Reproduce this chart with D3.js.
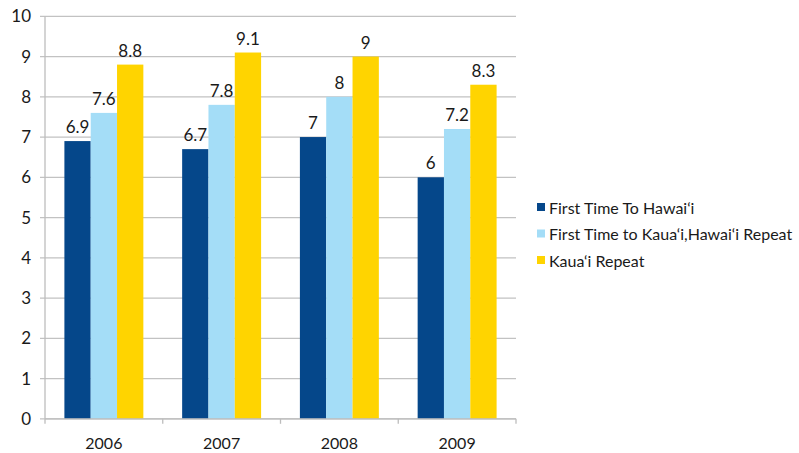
<!DOCTYPE html>
<html>
<head>
<meta charset="utf-8">
<script src="https://cdn.jsdelivr.net/npm/d3@7"></script>
<style>
  html, body { margin: 0; padding: 0; background: #fff; }
  svg text { font-family: "Lato", "Noto Sans", sans-serif; fill: #1a1a1a; }
</style>
</head>
<body>
<svg id="chart" width="799" height="453"></svg>
<script>
// Years on the category axis
const years = ["2006", "2007", "2008", "2009"];
// Visitor segments (legend order)
const seriesNames = [
  "First Time To Hawai\u2018i",
  "First Time to Kaua\u2018i,Hawai\u2018i Repeat",
  "Kaua\u2018i Repeat"
];
// Values per segment, one entry per year
const firstTimeHawaii = [6.9, 6.7, 7, 6];
const firstTimeKauai = [7.6, 7.8, 8, 7.2];
const kauaiRepeat = [8.8, 9.1, 9, 8.3];
const yTicks = [0, 1, 2, 3, 4, 5, 6, 7, 8, 9, 10];
const colors = ["#05478a", "#a4ddf7", "#ffd400"];

const seriesValues = [firstTimeHawaii, firstTimeKauai, kauaiRepeat];

const svg = d3.select("#chart");
const plotLeft = 45, plotRight = 516, plotTop = 16.3, plotBottom = 418.8;

const x = d3.scaleBand().domain(years).range([plotLeft, plotRight]).paddingInner(0).paddingOuter(0);
const groupPad = 19.4;
const xs = d3.scaleBand().domain(d3.range(seriesNames.length))
  .range([groupPad, x.bandwidth() - groupPad]).padding(0);
const y = d3.scaleLinear().domain([0, 10]).range([plotBottom, plotTop]);

// Horizontal gridlines with short tick marks left of the axis
svg.append("g").selectAll("line").data(yTicks).join("line")
  .attr("x1", plotLeft - 5).attr("x2", plotRight)
  .attr("y1", d => y(d)).attr("y2", d => y(d))
  .attr("stroke", "#c2c2c2").attr("stroke-width", 1.3);

// Y tick labels
svg.append("g").selectAll("text").data(yTicks).join("text")
  .attr("x", 31).attr("y", d => y(d)).attr("dy", "0.35em")
  .attr("text-anchor", "end").attr("font-size", 17).text(d => d);

// Bars
const groups = svg.append("g").selectAll("g").data(years).join("g")
  .attr("transform", d => `translate(${x(d)},0)`);

groups.each(function(year, i) {
  const g = d3.select(this);
  seriesValues.forEach((vals, s) => {
    const v = vals[i];
    g.append("rect")
      .attr("x", xs(s)).attr("width", xs.bandwidth())
      .attr("y", y(v)).attr("height", y(0) - y(v))
      .attr("fill", colors[s]);
    g.append("text")
      .attr("x", xs(s) + xs.bandwidth() / 2).attr("y", y(v) - 8)
      .attr("text-anchor", "middle").attr("font-size", 17)
      .text(v);
  });
});

// Axis lines
svg.append("line").attr("x1", plotLeft).attr("x2", plotLeft).attr("y1", plotTop).attr("y2", plotBottom)
  .attr("stroke", "#bdbdbd").attr("stroke-width", 1.3);
svg.append("line").attr("x1", plotLeft).attr("x2", plotRight).attr("y1", plotBottom).attr("y2", plotBottom)
  .attr("stroke", "#bdbdbd").attr("stroke-width", 1.3);

// Category boundary ticks below the axis
const bounds = years.map(d => x(d)).concat([plotRight]);
svg.append("g").selectAll("line").data(bounds).join("line")
  .attr("x1", d => d).attr("x2", d => d)
  .attr("y1", plotBottom).attr("y2", plotBottom + 5)
  .attr("stroke", "#bdbdbd").attr("stroke-width", 1.3);

// X labels
svg.append("g").selectAll("text").data(years).join("text")
  .attr("x", d => x(d) + x.bandwidth() / 2).attr("y", 449)
  .attr("text-anchor", "middle").attr("font-size", 16).text(d => d);

// Legend
const legend = svg.append("g").selectAll("g").data(seriesNames).join("g")
  .attr("transform", (d, i) => `translate(537,${209 + i * 26.5})`);
legend.append("rect").attr("x", 0).attr("y", -6).attr("width", 8).attr("height", 8)
  .attr("fill", (d, i) => colors[i]);
legend.append("text").attr("x", 12).attr("y", 0).attr("dy", "0.3em")
  .attr("font-size", 16).text(d => d);
</script>
</body>
</html>
